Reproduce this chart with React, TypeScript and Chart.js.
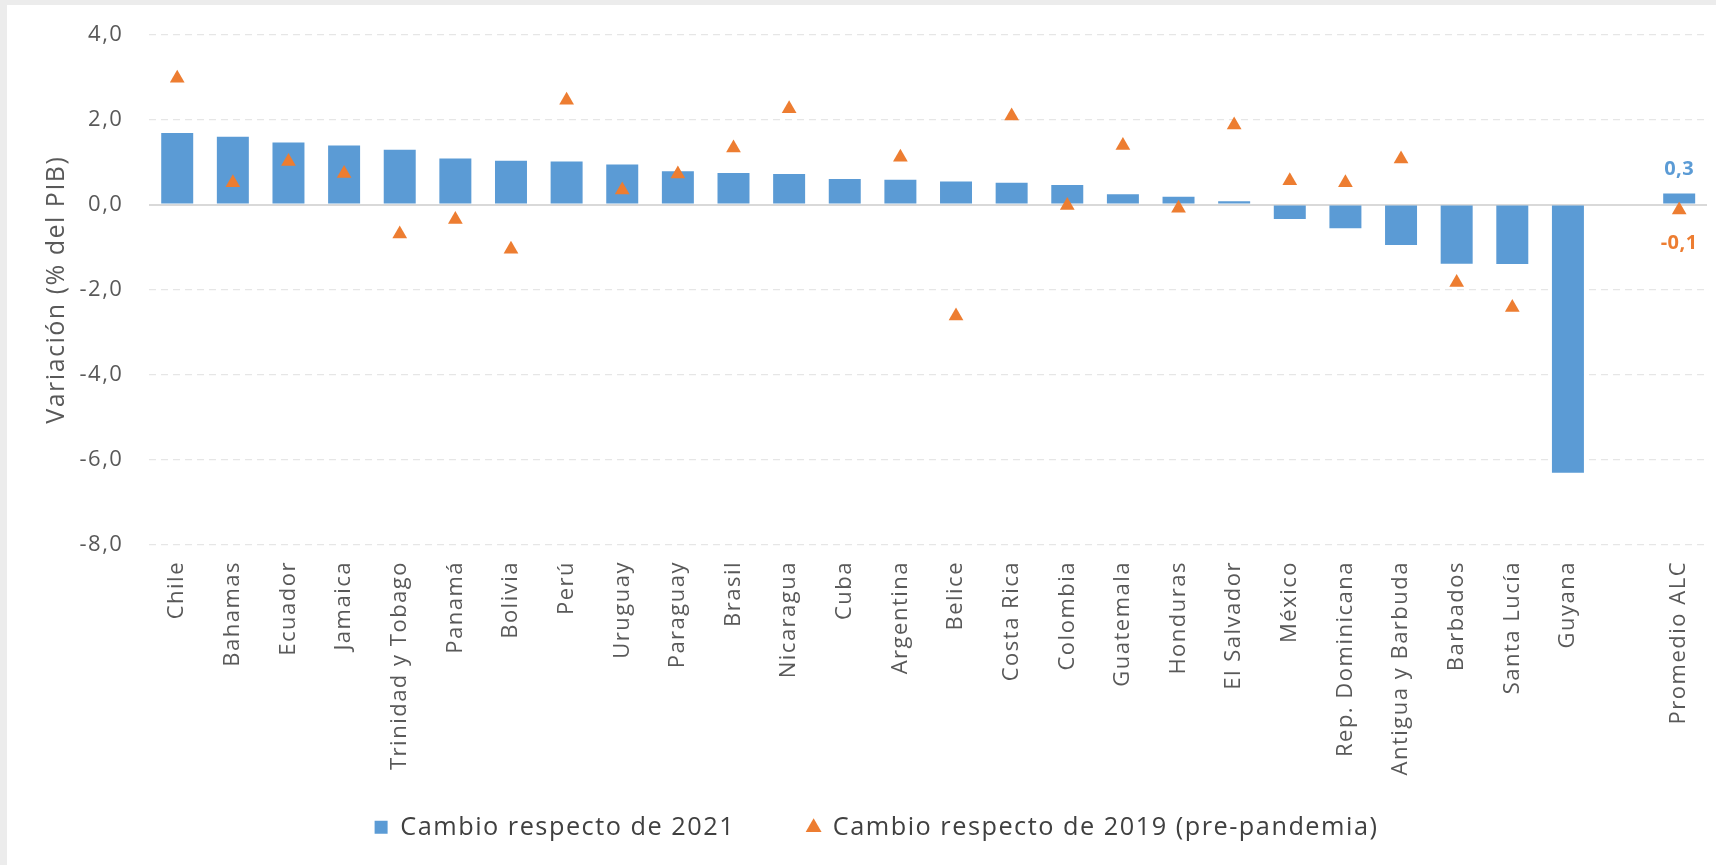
import React, { useEffect, useRef } from 'react';
import { Chart, registerables } from 'chart.js';

Chart.register(...registerables);

const categories = [
  'Chile', 'Bahamas', 'Ecuador', 'Jamaica', 'Trinidad y Tobago', 'Panamá', 'Bolivia', 'Perú',
  'Uruguay', 'Paraguay', 'Brasil', 'Nicaragua', 'Cuba', 'Argentina', 'Belice', 'Costa Rica',
  'Colombia', 'Guatemala', 'Honduras', 'El Salvador', 'México', 'Rep. Dominicana',
  'Antigua y Barbuda', 'Barbados', 'Santa Lucía', 'Guyana', '', 'Promedio ALC',
];

const cambio2021 = [
  1.68, 1.59, 1.46, 1.39, 1.29, 1.08, 1.03, 1.01,
  0.94, 0.78, 0.74, 0.72, 0.60, 0.58, 0.54, 0.51,
  0.46, 0.24, 0.18, 0.08, -0.34, -0.56,
  -0.95, -1.39, -1.40, -6.30, null, 0.26,
];

const cambio2019 = [
  2.97, 0.51, 1.01, 0.73, -0.69, -0.35, -1.05, 2.45,
  0.34, 0.72, 1.33, 2.25, null, 1.11, -2.62, 2.08,
  -0.02, 1.39, -0.09, 1.87, 0.56, 0.51,
  1.07, -1.83, -2.42, null, null, -0.13,
];

const seriesNames = ['Cambio respecto de 2021', 'Cambio respecto de 2019 (pre-pandemia)'];
const yTitle = 'Variación (% del PIB)';
const yMin = -8;
const yMax = 4;
const yStep = 2;

const BLUE = '#5B9BD5';
const ORANGE = '#ED7D31';
const TEXT = '#595959';
const NONE = 'rgba(0,0,0,0)';

const fmt = (v: number) => v.toFixed(1).replace('.', ',');

const spacingPlugin = {
  id: 'letterSpacing',
  beforeUpdate(chart: any) {
    chart.ctx.letterSpacing = '1.5px';
  },
  afterLayout(chart: any) {
    // let the rotated category labels extend below the axis box (no clipping)
    const x = chart.scales.x;
    x.bottom = x.top + 260;
  },
  beforeDraw(chart: any) {
    chart.ctx.letterSpacing = '1.5px';
  },
};

const lastLabelsPlugin = {
  id: 'lastLabels',
  afterDatasetsDraw(chart: any) {
    const ctx = chart.ctx;
    const i = categories.length - 1;
    const barEl = chart.getDatasetMeta(0).data[i];
    const ptEl = chart.getDatasetMeta(1).data[i];
    ctx.save();
    ctx.letterSpacing = '0.5px';
    ctx.font = 'bold 20px "Open Sans", sans-serif';
    ctx.textAlign = 'center';
    ctx.textBaseline = 'middle';
    const v1 = cambio2021[i];
    const v2 = cambio2019[i];
    if (barEl && v1 != null) {
      ctx.fillStyle = BLUE;
      ctx.fillText(fmt(v1), barEl.x, barEl.y - 24);
    }
    if (ptEl && v2 != null) {
      ctx.fillStyle = ORANGE;
      ctx.fillText(fmt(v2), ptEl.x, ptEl.y + 33);
    }
    ctx.restore();
  },
};

export default function App() {
  const canvasRef = useRef<HTMLCanvasElement | null>(null);

  useEffect(() => {
    const canvas = canvasRef.current;
    if (!canvas) return;
    Chart.defaults.font.family = '"Open Sans", sans-serif';
    const chart = new Chart(canvas, {
      type: 'bar',
      data: {
        labels: categories,
        datasets: [
          {
            type: 'bar',
            label: seriesNames[0],
            data: cambio2021 as any,
            backgroundColor: BLUE,
            borderWidth: 0,
            barPercentage: 0.575,
            categoryPercentage: 1,
            pointStyle: 'rect',
            order: 2,
          } as any,
          {
            type: 'line',
            label: seriesNames[1],
            data: cambio2019 as any,
            showLine: false,
            pointStyle: 'triangle',
            pointRadius: 8.5,
            pointBorderWidth: 0,
            pointBackgroundColor: ORANGE,
            pointBorderColor: ORANGE,
            backgroundColor: ORANGE,
            borderColor: ORANGE,
            order: 1,
          } as any,
        ],
      },
      options: {
        animation: false,
        responsive: false,
        events: [],
        layout: { padding: { left: 39, right: 9, top: 29.3, bottom: 15 } },
        plugins: {
          tooltip: { enabled: false },
          legend: {
            position: 'bottom',
            labels: {
              usePointStyle: true,
              boxWidth: 13,
              boxHeight: 13,
              padding: 72,
              color: '#404040',
              font: { size: 25.3 },
              sort: (a: any, b: any) => a.datasetIndex - b.datasetIndex,
            },
          },
        },
        scales: {
          x: {
            grid: {
              display: true,
              drawOnChartArea: false,
              drawTicks: true,
              tickLength: 16,
              color: NONE,
              tickColor: NONE,
            },
            border: { display: false },
            ticks: {
              autoSkip: false,
              maxRotation: 90,
              minRotation: 90,
              padding: 0,
              color: TEXT,
              font: { size: 22 },
            },
            afterFit: (scale: any) => {
              scale.height = 197.7;
            },
          },
          y: {
            min: yMin,
            max: yMax,
            ticks: {
              stepSize: yStep,
              padding: 0,
              color: TEXT,
              font: { size: 22 },
              callback: (v: any) => fmt(Number(v)),
            },
            grid: {
              drawTicks: true,
              tickLength: 26,
              tickColor: NONE,
              color: (c: any) => (c.tick && c.tick.value === 0 ? '#d9d9d9' : '#e6e6e6'),
              lineWidth: (c: any) => (c.tick && c.tick.value === 0 ? 2 : 1.3),
            },
            border: {
              display: false,
              dash: (c: any) => (c.tick && c.tick.value === 0 ? [] : [7, 5]),
            },
            title: {
              display: true,
              text: yTitle,
              color: TEXT,
              font: { size: 25 },
              padding: { top: -4, bottom: 0 },
            },
            afterFit: (scale: any) => {
              scale.width = 103.4;
            },
          },
        },
      },
      plugins: [spacingPlugin, lastLabelsPlugin],
    } as any);
    return () => chart.destroy();
  }, []);

  return (
    <div style={{ position: 'fixed', inset: 0, background: '#ececec' }}>
      <div style={{ position: 'absolute', left: 7, top: 5, width: 1709, height: 860, background: '#ffffff' }}>
        <canvas ref={canvasRef} width={1709} height={860} style={{ display: 'block', width: 1709, height: 860 }} />
      </div>
    </div>
  );
}
